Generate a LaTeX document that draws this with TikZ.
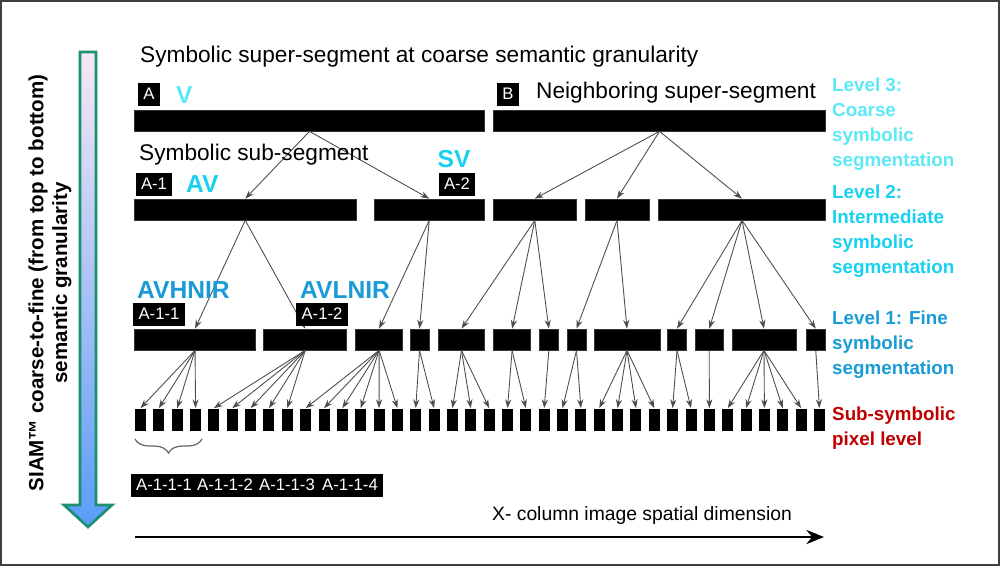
\documentclass[tikz,border=0pt]{standalone}
\usepackage{fontspec}
\setmainfont{Liberation Sans}
\usetikzlibrary{arrows.meta,decorations.pathreplacing}

\definecolor{lvlthree}{HTML}{5CE8F5}
\definecolor{lvltwo}{HTML}{17D2EE}
\definecolor{lvlone}{HTML}{1A9BD6}
\definecolor{lvlzero}{HTML}{C00000}
\definecolor{arrowedge}{HTML}{1A9070}
\definecolor{arrowtop}{HTML}{F8E8F5}
\definecolor{arrowbot}{HTML}{5B9CF7}

\tikzset{
  seg/.style={fill=black, draw=black!80, inner sep=0pt, minimum height=21*0.02cm},
  pix/.style={fill=black, inner sep=0pt, minimum width=11*0.02cm, minimum height=22*0.02cm},
  tag/.style={fill=black, text=white, font=\fontsize{9.5}{11}\selectfont, inner sep=3pt,
    minimum height=23*0.02cm},
  link/.style={draw=black!70, line width=0.5pt, -{Stealth[length=5pt,width=3.5pt]}},
  lvl/.style={anchor=north west, align=left, font=\fontsize{10.7}{14.2}\selectfont\bfseries},
  hint/.style={font=\fontsize{14}{16}\selectfont\bfseries},
  say/.style={anchor=west, font=\fontsize{12.9}{15}\selectfont},
}

\begin{document}
\begin{tikzpicture}[x=0.02cm, y=-0.02cm]
\useasboundingbox (0,0) rectangle (1000,566);

% Border
\draw[black!75, line width=1pt] (1,1) rectangle (999,565);

% Pixel level
\foreach \i in {0,...,37} {
    \node[pix] (p\i) at ({140.5+18.35*\i},419.5) {};
}

% Level 1 segments
\foreach \n/\l/\r/\a/\b in {1/134.5/255.6/0/3, 2/263.7/346.8/4/8, 3/355.8/402.4/9/14,
    4/410/429/15/16, 5/438.5/484.5/17/19, 6/493.6/530.6/20/21, 7/539.7/558/22/22,
    8/567/586/23/24, 9/594/660/25/28, 10/667.5/686.5/29/30, 11/695.5/723/31/31,
    12/732/796/32/36, 13/806/825.5/37/37} {
    \node[seg, minimum width={(\r-\l)*0.02cm}] (l\n) at ({(\l+\r)/2},339.5) {};
    \foreach \k in {\a,...,\b}
        \draw[link] (l\n.south) -- (p\k.north);
}

% Level 2 segments
\foreach \n/\l/\r/\a/\b in {1/134.5/356/1/2, 2/374/484.5/3/4, 3/493.6/576/5/7,
    4/585/649/8/9, 5/658.5/825.5/10/13} {
    \node[seg, minimum width={(\r-\l)*0.02cm}] (m\n) at ({(\l+\r)/2},209.5) {};
    \foreach \k in {\a,...,\b}
        \draw[link] (m\n.south) -- (l\k.north);
}

% Level 3 segments
\node[seg, minimum width={350*0.02cm}] (sA) at (309.5,120.5) {};
\node[seg, minimum width={332*0.02cm}] (sB) at (659.5,120.5) {};
\foreach \k in {1,2} \draw[link] (sA.south) -- (m\k.north);
\foreach \k in {3,4,5} \draw[link] (sB.south) -- (m\k.north);

% Tags
\node[tag] (tA) at (149,94) {A};
\node[tag] (tB) at (508,94) {B};
\node[tag] (tA1) at (154,184) {A-1};
\node[tag] (tA2) at (457,184) {A-2};
\node[tag] (tA11) at (159,314) {A-1-1};
\node[tag] (tA12) at (322,314) {A-1-2};
\foreach \j/\x in {1/164,2/225,3/287,4/350}
    \node[tag] (tq\j) at (\x,485) {A-1-1-\j};

% Brace over first fine pixels
\draw[black!60, line width=0.7pt, decorate, decoration={brace, mirror, amplitude=8pt}]
    (135,439) -- (202,439);

% Texts
\node[say] (tsup) at (134,57) {Symbolic super-segment at coarse semantic granularity};
\node[say] (tnb) at (530,93) {Neighboring super-segment};
\node[say] (tsub) at (133,155) {Symbolic sub-segment};
\node[hint, text=lvlthree, anchor=west] (hV) at (170,95) {V};
\node[hint, text=lvltwo, anchor=west] (hAV) at (180,184) {AV};
\node[hint, text=lvltwo] (hSV) at (454,159) {SV};
\node[hint, text=lvlone, anchor=west] (hAH) at (131,290) {AVHNIR};
\node[hint, text=lvlone, anchor=west] (hAL) at (294,290) {AVLNIR};

% Level labels
\node[lvl, text=lvlthree] (lv3) at (826,72) {Level 3:\\Coarse\\symbolic\\segmentation};
\node[lvl, text=lvltwo] (lv2) at (826,179) {Level 2:\\Intermediate\\symbolic\\segmentation};
\node[lvl, text=lvlone] (lv1) at (826,305) {Level 1: Fine\\symbolic\\segmentation};
\node[lvl, text=lvlzero] (lv0) at (826,401) {Sub-symbolic\\pixel level};

% Spatial axis
\coordinate (ax0) at (135,537);
\coordinate (ax1) at (824,537);
\draw[line width=1.6pt, -{Stealth[length=10pt,width=8pt]}] (ax0) -- (ax1);
\node[font=\fontsize{11}{13}\selectfont] (tax) at (642,515) {X- column image spatial dimension};

% Granularity arrow
\shade[top color=arrowtop, bottom color=arrowbot, draw=arrowedge, line width=1.5pt]
    (80,52) -- (96,52) -- (96,505) -- (112,505) -- (88,527) -- (64,505) -- (80,505) -- cycle;
\node[rotate=90, align=center, font=\fontsize{11.7}{13.6}\selectfont\bfseries] (tgr) at (50,283)
    {SIAM™ coarse-to-fine (from top to bottom)\\semantic granularity};

\end{tikzpicture}
\end{document}
